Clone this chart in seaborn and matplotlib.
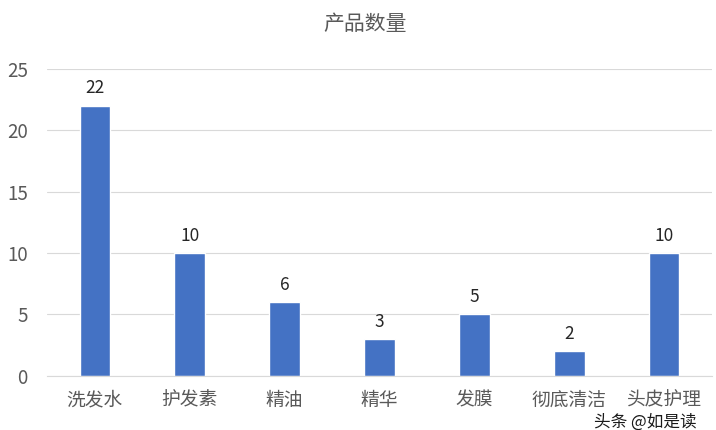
import numpy as np
import pandas as pd
import seaborn as sns
import matplotlib.pyplot as plt

categories = ["洗发水", "护发素", "精油", "精华", "发膜", "彻底清洁", "头皮护理"]
counts = [22, 10, 6, 3, 5, 2, 10]

df = pd.DataFrame({"cat": categories, "n": counts})

sns.set_style("white")
plt.rcParams["font.family"] = ["Noto Sans CJK SC", "DejaVu Sans"]

fig = plt.figure(figsize=(7.16, 4.3), dpi=100)
ax = fig.add_axes([0.066, 0.126, 0.928, 0.714])
sns.barplot(x="cat", y="n", data=df, color="#4472C4", width=0.32, saturation=1, ax=ax)

ax.set_ylim(0, 25)
ax.set_yticks([0, 5, 10, 15, 20, 25])
ax.yaxis.grid(True, color="#D9D9D9", linewidth=0.8)
ax.set_axisbelow(True)
for s in ["top", "right", "left"]:
    ax.spines[s].set_visible(False)
ax.spines["bottom"].set_color("#D9D9D9")
ax.tick_params(axis="both", length=0, labelsize=13.5, colors="#595959")
ax.tick_params(axis="x", pad=10)
ax.tick_params(axis="y", pad=14)
ax.set_xlabel("")
ax.set_ylabel("")

# 数据标签
for c in ax.containers:
    ax.bar_label(c, padding=6, fontsize=12.5, color="#262626")

fig.text(0.51, 0.945, "产品数量", ha="center", va="center", fontsize=15, color="#595959")

# 水印
fig.text(0.83, 0.018, "头条 @如是读", ha="left", va="center", fontsize=12, color="#1a1a1a")

plt.savefig("out.png", dpi=100)
